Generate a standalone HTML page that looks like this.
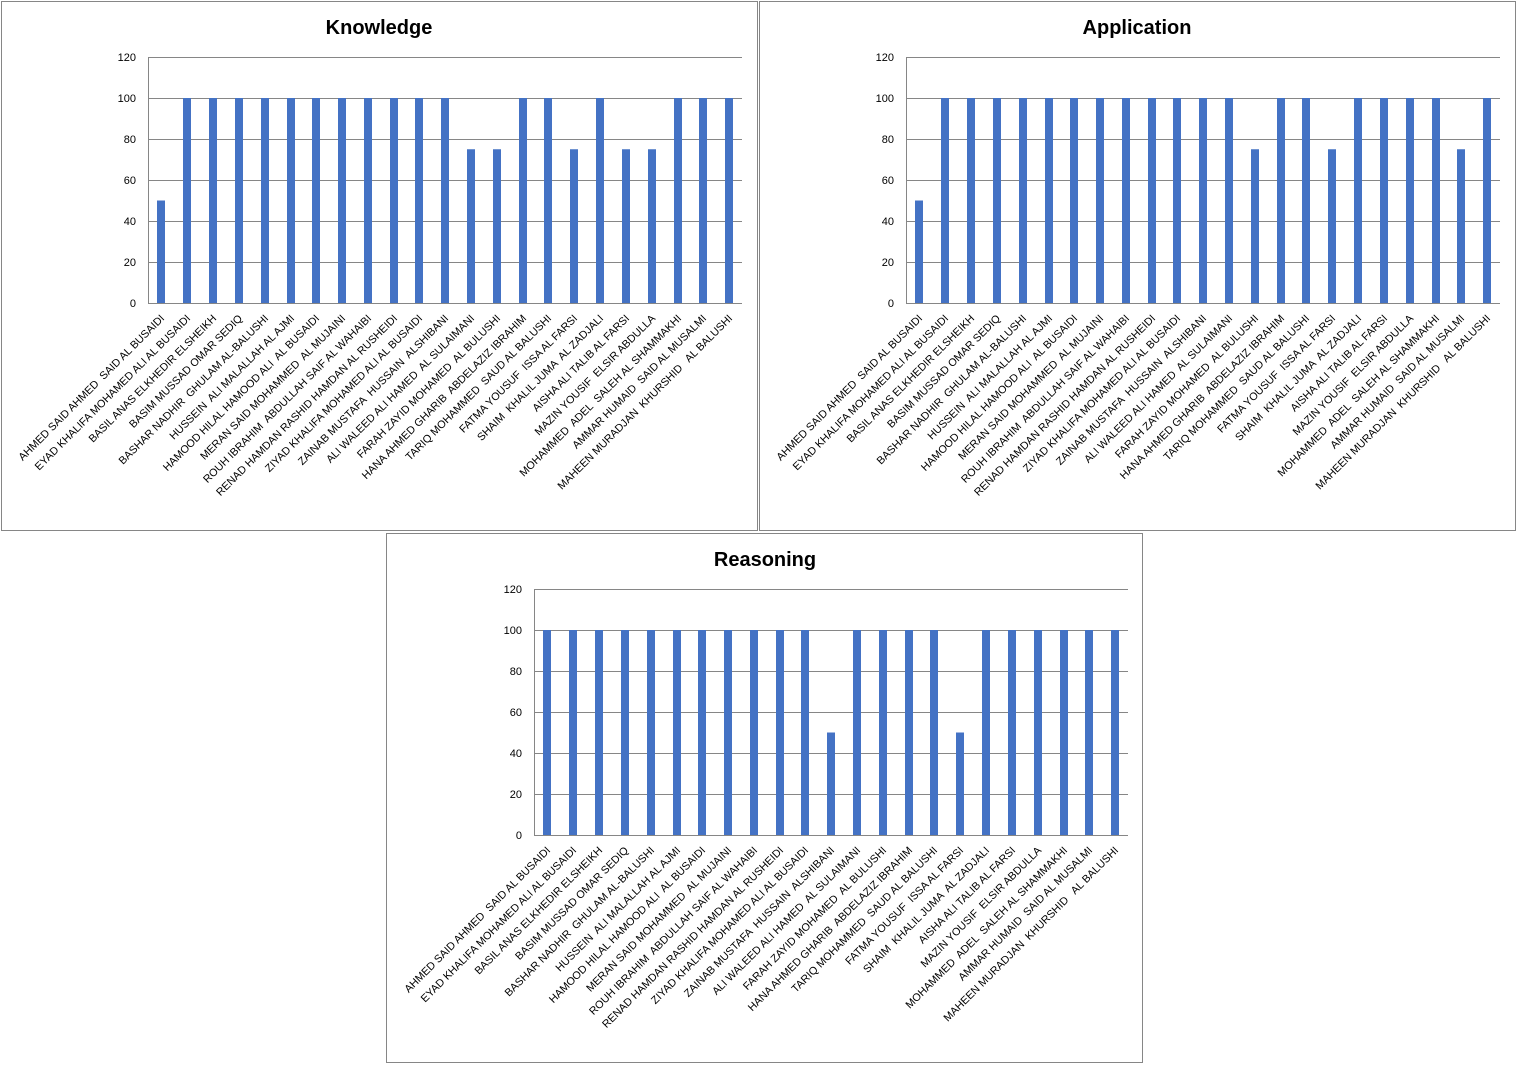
<!DOCTYPE html>
<html><head><meta charset="utf-8"><style>
html,body{margin:0;padding:0;background:#fff;}
svg{display:block;font-family:"Liberation Sans",sans-serif;}
.t{font-size:20px;font-weight:bold;text-anchor:middle;fill:#000}
.y{font-size:11px;text-anchor:end;fill:#000}
.l{font-size:10.8px;text-anchor:end;fill:#000;white-space:pre}
.g{stroke:#868686;stroke-width:1}
.b{fill:#4472C4}
</style></head><body>
<svg width="1520" height="1066" viewBox="0 0 1520 1066" xml:space="preserve">
<rect x="1.5" y="1.5" width="756" height="529" fill="#fff" stroke="#868686"/>
<rect x="759.5" y="1.5" width="756" height="529" fill="#fff" stroke="#868686"/>
<rect x="386.5" y="533.5" width="756" height="529" fill="#fff" stroke="#868686"/>

<!-- Chart 1 -->
<g transform="translate(1,1)">
<text class="t" x="378" y="33">Knowledge</text>
<g class="g">
<line x1="147" y1="56.5" x2="741" y2="56.5"/><line x1="147" y1="97.5" x2="741" y2="97.5"/><line x1="147" y1="138.5" x2="741" y2="138.5"/><line x1="147" y1="179.5" x2="741" y2="179.5"/><line x1="147" y1="220.5" x2="741" y2="220.5"/><line x1="147" y1="261.5" x2="741" y2="261.5"/><line x1="147" y1="302.5" x2="741" y2="302.5"/><line x1="147.5" y1="56" x2="147.5" y2="303"/>
</g>
<text class="y" x="135" y="60">120</text><text class="y" x="135" y="101">100</text><text class="y" x="135" y="142">80</text><text class="y" x="135" y="183">60</text><text class="y" x="135" y="224">40</text><text class="y" x="135" y="265">20</text><text class="y" x="135" y="306">0</text>
<g class="b">
<rect x="156" y="199.5" width="8" height="102.5"/><rect x="182" y="97" width="8" height="205"/><rect x="208" y="97" width="8" height="205"/><rect x="234" y="97" width="8" height="205"/><rect x="260" y="97" width="8" height="205"/><rect x="286" y="97" width="8" height="205"/><rect x="311" y="97" width="8" height="205"/><rect x="337" y="97" width="8" height="205"/><rect x="363" y="97" width="8" height="205"/><rect x="389" y="97" width="8" height="205"/><rect x="414" y="97" width="8" height="205"/><rect x="440" y="97" width="8" height="205"/><rect x="466" y="148.25" width="8" height="153.75"/><rect x="492" y="148.25" width="8" height="153.75"/><rect x="518" y="97" width="8" height="205"/><rect x="543" y="97" width="8" height="205"/><rect x="569" y="148.25" width="8" height="153.75"/><rect x="595" y="97" width="8" height="205"/><rect x="621" y="148.25" width="8" height="153.75"/><rect x="647" y="148.25" width="8" height="153.75"/><rect x="673" y="97" width="8" height="205"/><rect x="698" y="97" width="8" height="205"/><rect x="724" y="97" width="8" height="205"/>
</g>
<text class="l" transform="translate(164,318) rotate(-45)">AHMED SAID AHMED  SAID AL BUSAIDI</text>
<text class="l" transform="translate(190,318) rotate(-45)">EYAD KHALIFA MOHAMED ALI AL BUSAIDI</text>
<text class="l" transform="translate(216,318) rotate(-45)">BASIL ANAS ELKHEDIR ELSHEIKH</text>
<text class="l" transform="translate(242,318) rotate(-45)">BASIM MUSSAD OMAR SEDIQ</text>
<text class="l" transform="translate(268,318) rotate(-45)">BASHAR NADHIR  GHULAM AL-BALUSHI</text>
<text class="l" transform="translate(294,318) rotate(-45)">HUSSEIN  ALI MALALLAH AL AJMI</text>
<text class="l" transform="translate(319,318) rotate(-45)">HAMOOD HILAL HAMOOD ALI  AL BUSAIDI</text>
<text class="l" transform="translate(345,318) rotate(-45)">MERAN SAID MOHAMMED  AL MUJAINI</text>
<text class="l" transform="translate(371,318) rotate(-45)">ROUH IBRAHIM  ABDULLAH SAIF AL WAHAIBI</text>
<text class="l" transform="translate(397,318) rotate(-45)">RENAD HAMDAN RASHID HAMDAN AL RUSHEIDI</text>
<text class="l" transform="translate(422,318) rotate(-45)">ZIYAD KHALIFA MOHAMED ALI AL BUSAIDI</text>
<text class="l" transform="translate(448,318) rotate(-45)">ZAINAB MUSTAFA  HUSSAIN  ALSHIBANI</text>
<text class="l" transform="translate(474,318) rotate(-45)">ALI WALEED ALI HAMED  AL SULAIMANI</text>
<text class="l" transform="translate(500,318) rotate(-45)">FARAH ZAYID MOHAMED  AL BULUSHI</text>
<text class="l" transform="translate(526,318) rotate(-45)">HANA AHMED GHARIB  ABDELAZIZ IBRAHIM</text>
<text class="l" transform="translate(551,318) rotate(-45)">TARIQ MOHAMMED  SAUD AL BALUSHI</text>
<text class="l" transform="translate(577,318) rotate(-45)">FATMA YOUSUF  ISSA AL FARSI</text>
<text class="l" transform="translate(603,318) rotate(-45)">SHAIM  KHALIL JUMA  AL ZADJALI</text>
<text class="l" transform="translate(629,318) rotate(-45)">AISHA ALI TALIB AL FARSI</text>
<text class="l" transform="translate(655,318) rotate(-45)">MAZIN YOUSIF  ELSIR ABDULLA</text>
<text class="l" transform="translate(681,318) rotate(-45)">MOHAMMED  ADEL  SALEH AL SHAMMAKHI</text>
<text class="l" transform="translate(706,318) rotate(-45)">AMMAR HUMAID  SAID AL MUSALMI</text>
<text class="l" transform="translate(732,318) rotate(-45)">MAHEEN MURADJAN  KHURSHID   AL BALUSHI</text>
</g>

<!-- Chart 2 -->
<g transform="translate(759,1)">
<text class="t" x="378" y="33">Application</text>
<g class="g">
<line x1="147" y1="56.5" x2="741" y2="56.5"/><line x1="147" y1="97.5" x2="741" y2="97.5"/><line x1="147" y1="138.5" x2="741" y2="138.5"/><line x1="147" y1="179.5" x2="741" y2="179.5"/><line x1="147" y1="220.5" x2="741" y2="220.5"/><line x1="147" y1="261.5" x2="741" y2="261.5"/><line x1="147" y1="302.5" x2="741" y2="302.5"/><line x1="147.5" y1="56" x2="147.5" y2="303"/>
</g>
<text class="y" x="135" y="60">120</text><text class="y" x="135" y="101">100</text><text class="y" x="135" y="142">80</text><text class="y" x="135" y="183">60</text><text class="y" x="135" y="224">40</text><text class="y" x="135" y="265">20</text><text class="y" x="135" y="306">0</text>
<g class="b">
<rect x="156" y="199.5" width="8" height="102.5"/><rect x="182" y="97" width="8" height="205"/><rect x="208" y="97" width="8" height="205"/><rect x="234" y="97" width="8" height="205"/><rect x="260" y="97" width="8" height="205"/><rect x="286" y="97" width="8" height="205"/><rect x="311" y="97" width="8" height="205"/><rect x="337" y="97" width="8" height="205"/><rect x="363" y="97" width="8" height="205"/><rect x="389" y="97" width="8" height="205"/><rect x="414" y="97" width="8" height="205"/><rect x="440" y="97" width="8" height="205"/><rect x="466" y="97" width="8" height="205"/><rect x="492" y="148.25" width="8" height="153.75"/><rect x="518" y="97" width="8" height="205"/><rect x="543" y="97" width="8" height="205"/><rect x="569" y="148.25" width="8" height="153.75"/><rect x="595" y="97" width="8" height="205"/><rect x="621" y="97" width="8" height="205"/><rect x="647" y="97" width="8" height="205"/><rect x="673" y="97" width="8" height="205"/><rect x="698" y="148.25" width="8" height="153.75"/><rect x="724" y="97" width="8" height="205"/>
</g>
<text class="l" transform="translate(164,318) rotate(-45)">AHMED SAID AHMED  SAID AL BUSAIDI</text>
<text class="l" transform="translate(190,318) rotate(-45)">EYAD KHALIFA MOHAMED ALI AL BUSAIDI</text>
<text class="l" transform="translate(216,318) rotate(-45)">BASIL ANAS ELKHEDIR ELSHEIKH</text>
<text class="l" transform="translate(242,318) rotate(-45)">BASIM MUSSAD OMAR SEDIQ</text>
<text class="l" transform="translate(268,318) rotate(-45)">BASHAR NADHIR  GHULAM AL-BALUSHI</text>
<text class="l" transform="translate(294,318) rotate(-45)">HUSSEIN  ALI MALALLAH AL AJMI</text>
<text class="l" transform="translate(319,318) rotate(-45)">HAMOOD HILAL HAMOOD ALI  AL BUSAIDI</text>
<text class="l" transform="translate(345,318) rotate(-45)">MERAN SAID MOHAMMED  AL MUJAINI</text>
<text class="l" transform="translate(371,318) rotate(-45)">ROUH IBRAHIM  ABDULLAH SAIF AL WAHAIBI</text>
<text class="l" transform="translate(397,318) rotate(-45)">RENAD HAMDAN RASHID HAMDAN AL RUSHEIDI</text>
<text class="l" transform="translate(422,318) rotate(-45)">ZIYAD KHALIFA MOHAMED ALI AL BUSAIDI</text>
<text class="l" transform="translate(448,318) rotate(-45)">ZAINAB MUSTAFA  HUSSAIN  ALSHIBANI</text>
<text class="l" transform="translate(474,318) rotate(-45)">ALI WALEED ALI HAMED  AL SULAIMANI</text>
<text class="l" transform="translate(500,318) rotate(-45)">FARAH ZAYID MOHAMED  AL BULUSHI</text>
<text class="l" transform="translate(526,318) rotate(-45)">HANA AHMED GHARIB  ABDELAZIZ IBRAHIM</text>
<text class="l" transform="translate(551,318) rotate(-45)">TARIQ MOHAMMED  SAUD AL BALUSHI</text>
<text class="l" transform="translate(577,318) rotate(-45)">FATMA YOUSUF  ISSA AL FARSI</text>
<text class="l" transform="translate(603,318) rotate(-45)">SHAIM  KHALIL JUMA  AL ZADJALI</text>
<text class="l" transform="translate(629,318) rotate(-45)">AISHA ALI TALIB AL FARSI</text>
<text class="l" transform="translate(655,318) rotate(-45)">MAZIN YOUSIF  ELSIR ABDULLA</text>
<text class="l" transform="translate(681,318) rotate(-45)">MOHAMMED  ADEL  SALEH AL SHAMMAKHI</text>
<text class="l" transform="translate(706,318) rotate(-45)">AMMAR HUMAID  SAID AL MUSALMI</text>
<text class="l" transform="translate(732,318) rotate(-45)">MAHEEN MURADJAN  KHURSHID   AL BALUSHI</text>
</g>

<!-- Chart 3 -->
<g transform="translate(387,533)">
<text class="t" x="378" y="33">Reasoning</text>
<g class="g">
<line x1="147" y1="56.5" x2="741" y2="56.5"/><line x1="147" y1="97.5" x2="741" y2="97.5"/><line x1="147" y1="138.5" x2="741" y2="138.5"/><line x1="147" y1="179.5" x2="741" y2="179.5"/><line x1="147" y1="220.5" x2="741" y2="220.5"/><line x1="147" y1="261.5" x2="741" y2="261.5"/><line x1="147" y1="302.5" x2="741" y2="302.5"/><line x1="147.5" y1="56" x2="147.5" y2="303"/>
</g>
<text class="y" x="135" y="60">120</text><text class="y" x="135" y="101">100</text><text class="y" x="135" y="142">80</text><text class="y" x="135" y="183">60</text><text class="y" x="135" y="224">40</text><text class="y" x="135" y="265">20</text><text class="y" x="135" y="306">0</text>
<g class="b">
<rect x="156" y="97" width="8" height="205"/><rect x="182" y="97" width="8" height="205"/><rect x="208" y="97" width="8" height="205"/><rect x="234" y="97" width="8" height="205"/><rect x="260" y="97" width="8" height="205"/><rect x="286" y="97" width="8" height="205"/><rect x="311" y="97" width="8" height="205"/><rect x="337" y="97" width="8" height="205"/><rect x="363" y="97" width="8" height="205"/><rect x="389" y="97" width="8" height="205"/><rect x="414" y="97" width="8" height="205"/><rect x="440" y="199.5" width="8" height="102.5"/><rect x="466" y="97" width="8" height="205"/><rect x="492" y="97" width="8" height="205"/><rect x="518" y="97" width="8" height="205"/><rect x="543" y="97" width="8" height="205"/><rect x="569" y="199.5" width="8" height="102.5"/><rect x="595" y="97" width="8" height="205"/><rect x="621" y="97" width="8" height="205"/><rect x="647" y="97" width="8" height="205"/><rect x="673" y="97" width="8" height="205"/><rect x="698" y="97" width="8" height="205"/><rect x="724" y="97" width="8" height="205"/>
</g>
<text class="l" transform="translate(164,318) rotate(-45)">AHMED SAID AHMED  SAID AL BUSAIDI</text>
<text class="l" transform="translate(190,318) rotate(-45)">EYAD KHALIFA MOHAMED ALI AL BUSAIDI</text>
<text class="l" transform="translate(216,318) rotate(-45)">BASIL ANAS ELKHEDIR ELSHEIKH</text>
<text class="l" transform="translate(242,318) rotate(-45)">BASIM MUSSAD OMAR SEDIQ</text>
<text class="l" transform="translate(268,318) rotate(-45)">BASHAR NADHIR  GHULAM AL-BALUSHI</text>
<text class="l" transform="translate(294,318) rotate(-45)">HUSSEIN  ALI MALALLAH AL AJMI</text>
<text class="l" transform="translate(319,318) rotate(-45)">HAMOOD HILAL HAMOOD ALI  AL BUSAIDI</text>
<text class="l" transform="translate(345,318) rotate(-45)">MERAN SAID MOHAMMED  AL MUJAINI</text>
<text class="l" transform="translate(371,318) rotate(-45)">ROUH IBRAHIM  ABDULLAH SAIF AL WAHAIBI</text>
<text class="l" transform="translate(397,318) rotate(-45)">RENAD HAMDAN RASHID HAMDAN AL RUSHEIDI</text>
<text class="l" transform="translate(422,318) rotate(-45)">ZIYAD KHALIFA MOHAMED ALI AL BUSAIDI</text>
<text class="l" transform="translate(448,318) rotate(-45)">ZAINAB MUSTAFA  HUSSAIN  ALSHIBANI</text>
<text class="l" transform="translate(474,318) rotate(-45)">ALI WALEED ALI HAMED  AL SULAIMANI</text>
<text class="l" transform="translate(500,318) rotate(-45)">FARAH ZAYID MOHAMED  AL BULUSHI</text>
<text class="l" transform="translate(526,318) rotate(-45)">HANA AHMED GHARIB  ABDELAZIZ IBRAHIM</text>
<text class="l" transform="translate(551,318) rotate(-45)">TARIQ MOHAMMED  SAUD AL BALUSHI</text>
<text class="l" transform="translate(577,318) rotate(-45)">FATMA YOUSUF  ISSA AL FARSI</text>
<text class="l" transform="translate(603,318) rotate(-45)">SHAIM  KHALIL JUMA  AL ZADJALI</text>
<text class="l" transform="translate(629,318) rotate(-45)">AISHA ALI TALIB AL FARSI</text>
<text class="l" transform="translate(655,318) rotate(-45)">MAZIN YOUSIF  ELSIR ABDULLA</text>
<text class="l" transform="translate(681,318) rotate(-45)">MOHAMMED  ADEL  SALEH AL SHAMMAKHI</text>
<text class="l" transform="translate(706,318) rotate(-45)">AMMAR HUMAID  SAID AL MUSALMI</text>
<text class="l" transform="translate(732,318) rotate(-45)">MAHEEN MURADJAN  KHURSHID   AL BALUSHI</text>
</g>
</svg>
</body></html>
